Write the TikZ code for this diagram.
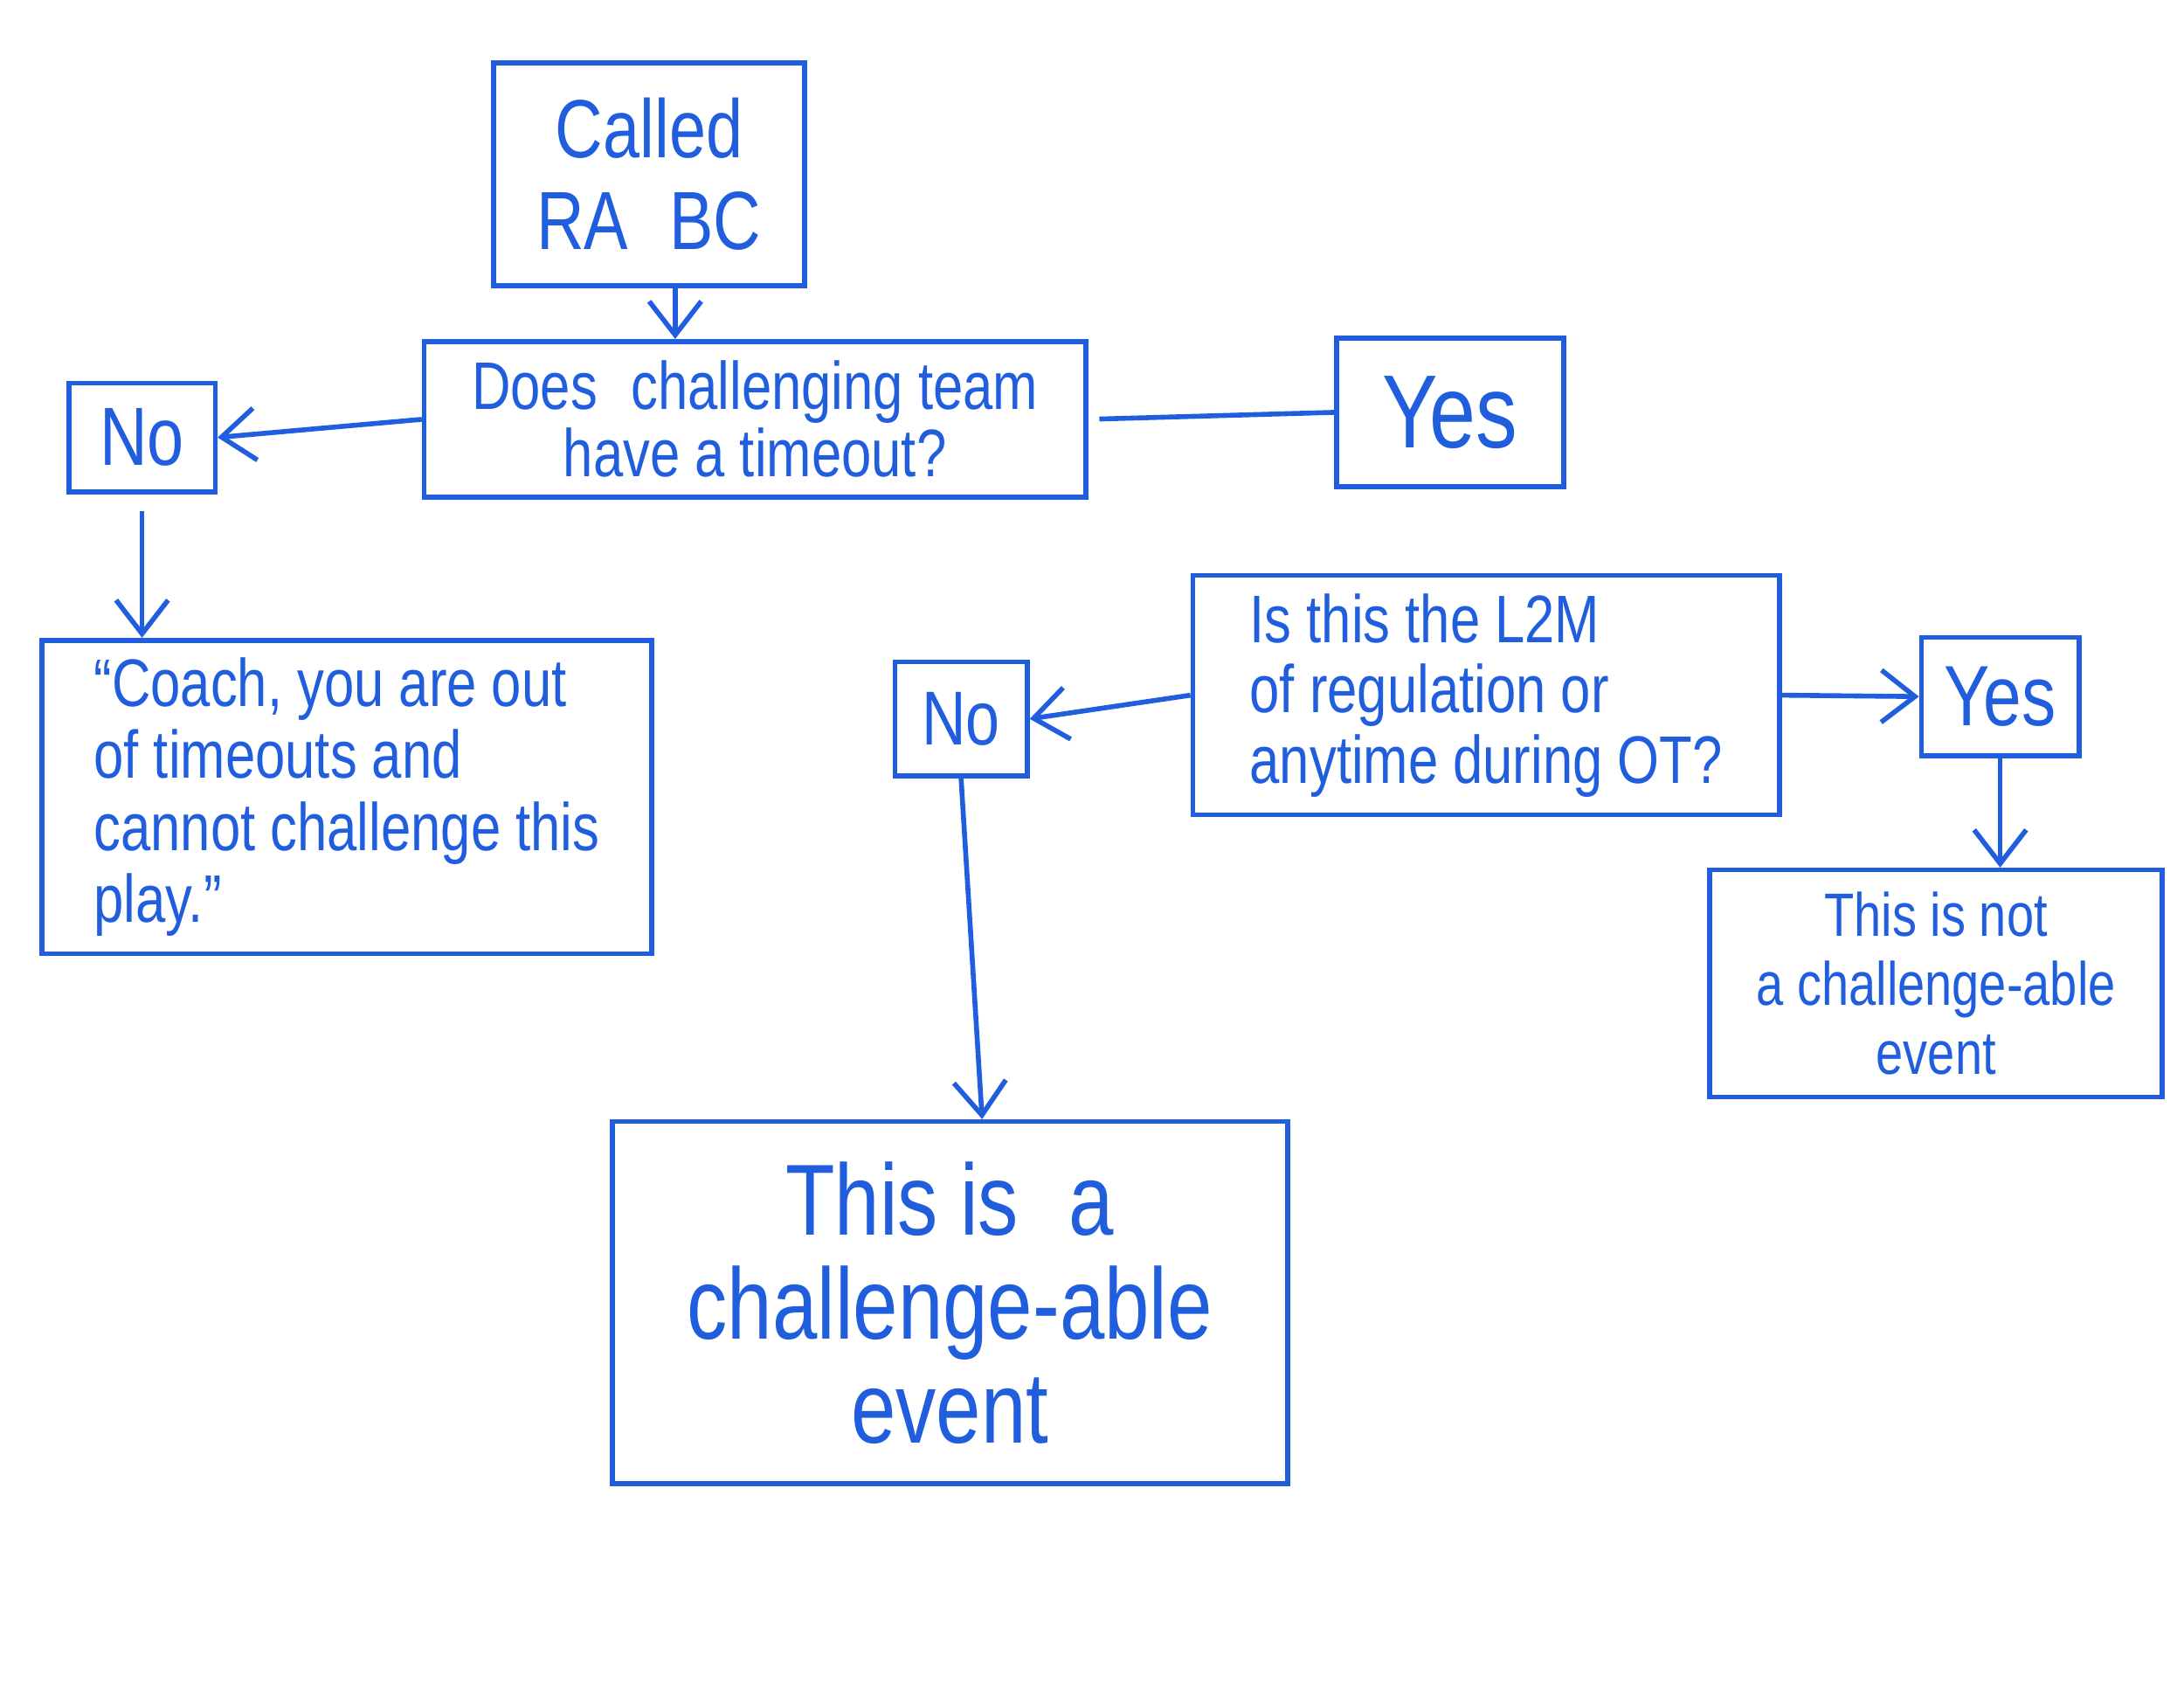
\documentclass[tikz,border=0pt]{standalone}
\usepackage{fontspec}
\setmainfont{Liberation Sans}[FakeStretch=0.8]
\usetikzlibrary{arrows.meta}
\definecolor{ink}{RGB}{32,94,222}
\begin{document}
\begin{tikzpicture}[x=0.016cm,y=-0.016cm,
	box/.style={draw=ink,ultra thick,text=ink,inner sep=0pt,align=center},
	arr/.style={draw=ink,ultra thick,-{Straight Barb[length=11pt,width=17pt]}},
	link/.style={draw=ink,ultra thick}]
	\useasboundingbox (0,0) rectangle (1568,1212);
	
	\node[box,minimum width=3.57cm,minimum height=2.56cm,font=\fontsize{27}{30}\selectfont](called) at (466,125) {Called\\RA\enspace BC};
	\node[box,minimum width=7.6cm,minimum height=1.79cm,font=\fontsize{22}{22}\selectfont](q1) at (542,301) {Does\enspace challenging team\\have a timeout?};
	\node[box,minimum width=1.68cm,minimum height=1.25cm,font=\fontsize{27}{30}\selectfont](no1) at (102,314) {No};
	\node[box,minimum width=2.61cm,minimum height=1.71cm,font=\fontsize{34}{38}\selectfont](yes1) at (1041,296) {Yes};
	\node[box,align=left,minimum width=7.01cm,minimum height=3.6cm,font=\fontsize{22}{23.5}\selectfont](coach) at (249,572) {``Coach, you are out\\of timeouts and\\cannot challenge this\\play.''};
	
	\node[box,align=left,minimum width=6.74cm,minimum height=2.75cm,font=\fontsize{22}{23}\selectfont](q2) at (1067,499) {Is this the L2M\\of regulation or\\anytime during OT?};
	\node[box,minimum width=1.52cm,minimum height=1.31cm,font=\fontsize{25}{28}\selectfont](no2) at (690,516) {No};
	\node[box,minimum width=1.81cm,minimum height=1.36cm,font=\fontsize{28}{32}\selectfont](yes2) at (1436,500) {Yes};
	\node[box,minimum width=5.2cm,minimum height=2.61cm,font=\fontsize{20}{22.5}\selectfont](notev) at (1390,706) {This is not\\a challenge-able\\event};
	\node[box,minimum width=7.76cm,minimum height=4.16cm,font=\fontsize{33}{34}\selectfont](canev) at (682,935) {This is\enspace a\\challenge-able\\event};
	
	\draw[arr]([xshift=0.3cm]called.south)--([xshift=0.3cm]called.south |- q1.north);
	\draw[arr](q1.west)--(no1.east);
	\draw[link,shorten <=0.13cm](q1.east)--(yes1.west);
	\draw[arr,shorten <=0.19cm](no1.south)--(no1.south |- coach.north);
	
	\draw[arr](q2.west)--(no2.east);
	\draw[arr](q2.east)--(yes2.west);
	\draw[arr](yes2.south)--(yes2.south |- notev.north);
	\draw[arr](no2.south)--([xshift=0.37cm]canev.north);
	
\end{tikzpicture}
\end{document}
